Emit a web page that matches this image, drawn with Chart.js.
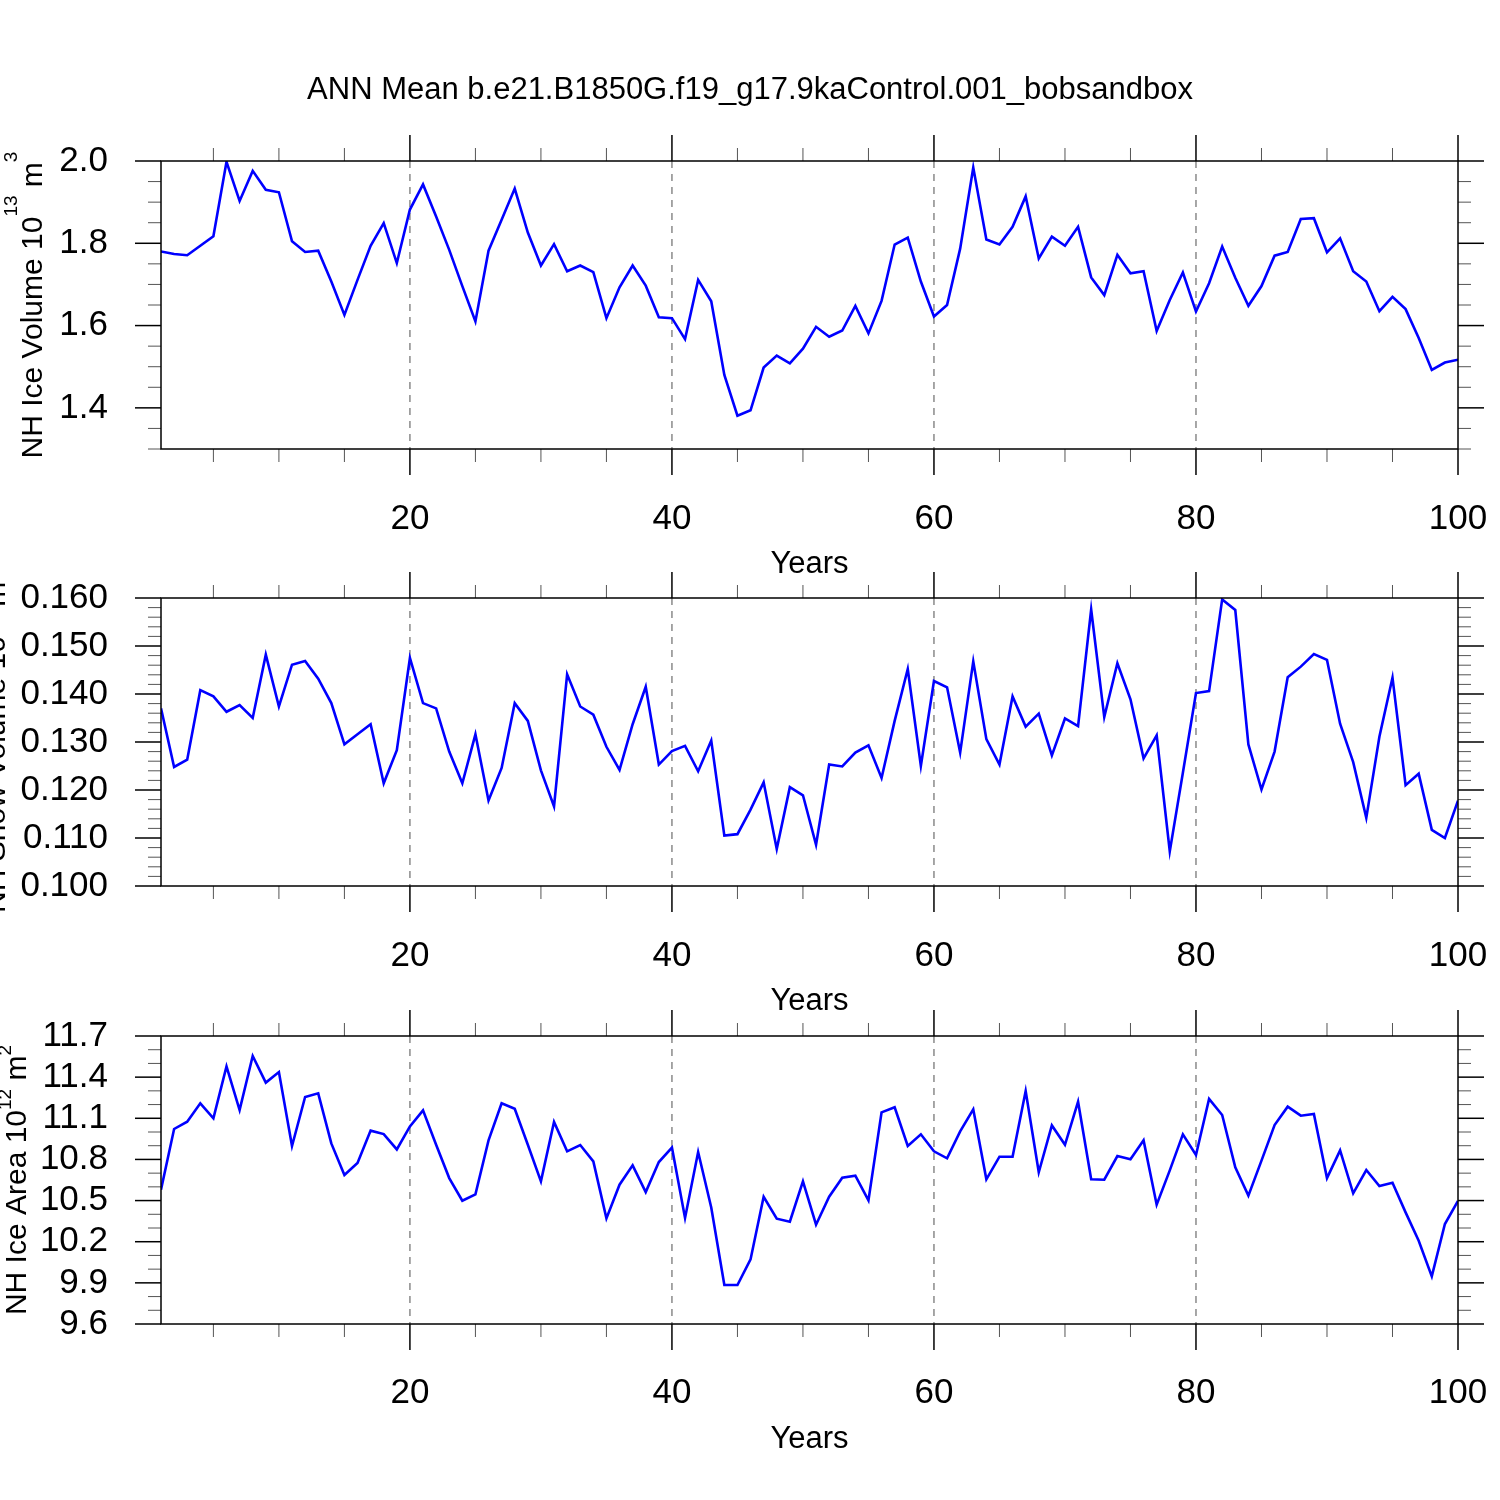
<!DOCTYPE html>
<html>
<head>
<meta charset="utf-8">
<title>ANN Mean b.e21.B1850G.f19_g17.9kaControl.001_bobsandbox</title>
<script src="https://cdn.jsdelivr.net/npm/chart.js@4.4.1/dist/chart.umd.min.js"></script>
<style>
  html, body { margin: 0; padding: 0; background: #fff; }
  #page { position: relative; width: 1500px; height: 1500px; background: #fff; overflow: hidden; }
  #page canvas { position: absolute; left: 0; }
</style>
</head>
<body>
<div id="page">
  <canvas id="iceVolumeChart" width="1500" height="600" style="top:0px"></canvas>
  <canvas id="snowVolumeChart" width="1500" height="500" style="top:540px"></canvas>
  <canvas id="iceAreaChart" width="1500" height="520" style="top:980px"></canvas>
</div>
<script>
// 年 (x軸)
const years = [
  1, 2, 3, 4, 5, 6, 7, 8, 9, 10, 11, 12, 13, 14, 15, 16, 17, 18, 19, 20,
  21, 22, 23, 24, 25, 26, 27, 28, 29, 30, 31, 32, 33, 34, 35, 36, 37, 38, 39, 40,
  41, 42, 43, 44, 45, 46, 47, 48, 49, 50, 51, 52, 53, 54, 55, 56, 57, 58, 59, 60,
  61, 62, 63, 64, 65, 66, 67, 68, 69, 70, 71, 72, 73, 74, 75, 76, 77, 78, 79, 80,
  81, 82, 83, 84, 85, 86, 87, 88, 89, 90, 91, 92, 93, 94, 95, 96, 97, 98, 99, 100,
];
const xTickYears = [20, 40, 60, 80, 100];
const dashedYears = [20, 40, 60, 80];

// NH Ice Volume (10^13 m^3)
const iceVolume = [
  1.780, 1.774, 1.771, 1.794, 1.817, 1.998, 1.903, 1.976, 1.930, 1.924,
  1.805, 1.779, 1.782, 1.707, 1.626, 1.711, 1.794, 1.849, 1.752, 1.882,
  1.943, 1.865, 1.784, 1.696, 1.610, 1.782, 1.857, 1.933, 1.826, 1.746,
  1.798, 1.732, 1.746, 1.730, 1.618, 1.693, 1.746, 1.697, 1.620, 1.618,
  1.567, 1.711, 1.659, 1.480, 1.381, 1.394, 1.498, 1.527, 1.508, 1.544,
  1.597, 1.573, 1.588, 1.648, 1.581, 1.660, 1.797, 1.814, 1.707, 1.622,
  1.650, 1.787, 1.984, 1.809, 1.797, 1.840, 1.914, 1.763, 1.816, 1.794,
  1.840, 1.717, 1.674, 1.772, 1.727, 1.732, 1.587, 1.662, 1.729, 1.634,
  1.703, 1.792, 1.716, 1.648, 1.696, 1.770, 1.779, 1.859, 1.861, 1.778,
  1.812, 1.732, 1.707, 1.635, 1.670, 1.640, 1.570, 1.492, 1.510, 1.517,
];
const iceVolumeTicks = [1.4, 1.6, 1.8, 2.0];

// NH Snow Volume (10^13 m^3)
const snowVolume = [
  0.1370, 0.1248, 0.1263, 0.1408, 0.1395, 0.1363, 0.1377, 0.1350, 0.1482, 0.1374,
  0.1461, 0.1469, 0.1432, 0.1381, 0.1295, 0.1316, 0.1337, 0.1214, 0.1283, 0.1475,
  0.1381, 0.1370, 0.1280, 0.1214, 0.1316, 0.1178, 0.1246, 0.1381, 0.1344, 0.1241,
  0.1166, 0.1441, 0.1374, 0.1357, 0.1290, 0.1242, 0.1337, 0.1415, 0.1253, 0.1281,
  0.1292, 0.1239, 0.1303, 0.1105, 0.1108, 0.1159, 0.1216, 0.1077, 0.1206, 0.1189,
  0.1086, 0.1253, 0.1249, 0.1278, 0.1293, 0.1225, 0.1344, 0.1452, 0.1250, 0.1427,
  0.1414, 0.1278, 0.1468, 0.1306, 0.1253, 0.1395, 0.1332, 0.1359, 0.1272, 0.1349,
  0.1333, 0.1576, 0.1352, 0.1464, 0.1389, 0.1266, 0.1314, 0.1072, 0.1236, 0.1402,
  0.1406, 0.1597, 0.1575, 0.1295, 0.1201, 0.1280, 0.1435, 0.1457, 0.1483, 0.1471,
  0.1338, 0.1258, 0.1142, 0.1311, 0.1434, 0.1210, 0.1234, 0.1117, 0.1100, 0.1178,
];
const snowVolumeTicks = [0.100, 0.110, 0.120, 0.130, 0.140, 0.150, 0.160];

// NH Ice Area (10^12 m^2)
const iceArea = [
  10.579, 11.022, 11.075, 11.209, 11.100, 11.479, 11.160, 11.554, 11.360, 11.437,
  10.898, 11.255, 11.282, 10.917, 10.686, 10.774, 11.010, 10.985, 10.873, 11.041,
  11.158, 10.907, 10.664, 10.499, 10.545, 10.939, 11.209, 11.170, 10.907, 10.640,
  11.073, 10.859, 10.905, 10.786, 10.370, 10.616, 10.757, 10.562, 10.781, 10.886,
  10.373, 10.854, 10.450, 9.884, 9.884, 10.071, 10.528, 10.368, 10.346, 10.640,
  10.324, 10.528, 10.667, 10.681, 10.501, 11.143, 11.180, 10.898, 10.983, 10.859,
  10.808, 11.005, 11.165, 10.655, 10.820, 10.820, 11.299, 10.706, 11.048, 10.907,
  11.221, 10.655, 10.652, 10.825, 10.801, 10.939, 10.470, 10.720, 10.983, 10.832,
  11.241, 11.124, 10.742, 10.536, 10.791, 11.051, 11.185, 11.119, 11.131, 10.664,
  10.866, 10.553, 10.723, 10.606, 10.630, 10.414, 10.207, 9.947, 10.329, 10.497,
];
const iceAreaTicks = [9.6, 9.9, 10.2, 10.5, 10.8, 11.1, 11.4, 11.7];

// 縦軸タイトル (上付き文字は sup)
const iceVolumeTitle = [{ text: "NH Ice Volume 10" }, { text: "13", sup: true }, { text: " m" }, { text: "3", sup: true }];
const snowVolumeTitle = [{ text: "NH Snow Volume 10" }, { text: "13", sup: true }, { text: " m" }, { text: "3", sup: true }];
const iceAreaTitle = [{ text: "NH Ice Area 10" }, { text: "12", sup: true }, { text: " m" }, { text: "2", sup: true }];

const mainTitle = "ANN Mean b.e21.B1850G.f19_g17.9kaControl.001_bobsandbox";

const FONT = "'Liberation Sans', Arial, Helvetica, sans-serif";
Chart.defaults.font.family = FONT;
Chart.defaults.color = "#000";

// 枠・目盛り・破線・縦軸タイトル・図タイトルを描くプラグイン
function makeFrame(panel) {
  return {
    id: "ncFrame",
    beforeDatasetsDraw(chart) {
      const { ctx, chartArea: a, scales } = chart;
      ctx.save();
      ctx.strokeStyle = "#8a8a8a";
      ctx.lineWidth = 1.5;
      ctx.setLineDash([7, 6]);
      dashedYears.forEach((v) => {
        const px = scales.x.getPixelForValue(v);
        ctx.beginPath();
        ctx.moveTo(px, a.top);
        ctx.lineTo(px, a.bottom);
        ctx.stroke();
      });
      ctx.restore();
    },
    afterDraw(chart) {
      const { ctx, chartArea: a, scales } = chart;
      const x = scales.x;
      const y = scales.y;
      const line = (x1, y1, x2, y2) => {
        ctx.beginPath();
        ctx.moveTo(x1, y1);
        ctx.lineTo(x2, y2);
        ctx.stroke();
      };
      ctx.save();

      // x 目盛り (5年ごと, 20年ごとに長く)
      for (let v = 5; v <= 100; v += 5) {
        const major = xTickYears.includes(v);
        const len = major ? 26 : 13;
        ctx.lineWidth = major ? 1.5 : 1;
        ctx.strokeStyle = major ? "#000" : "#555";
        const px = x.getPixelForValue(v);
        line(px, a.top, px, a.top - len);
        line(px, a.bottom, px, a.bottom + len);
      }

      // y 目盛り
      const n = Math.round((y.max - y.min) / panel.minorStep);
      for (let i = 0; i <= n; i++) {
        const v = y.min + i * panel.minorStep;
        const major = panel.ticks.some((m) => Math.abs(m - v) < panel.minorStep / 10);
        const len = major ? 26 : 13;
        ctx.lineWidth = major ? 1.5 : 1;
        ctx.strokeStyle = major ? "#000" : "#555";
        const py = y.getPixelForValue(v);
        line(a.left, py, a.left - len, py);
        line(a.right, py, a.right + len, py);
      }

      // 枠
      ctx.lineWidth = 1.5;
      ctx.strokeStyle = "#000";
      ctx.strokeRect(a.left, a.top, a.right - a.left, a.bottom - a.top);

      ctx.fillStyle = "#000";

      // 図タイトル (ページ中央)
      if (panel.showTitle) {
        ctx.font = "31px " + FONT;
        ctx.textAlign = "center";
        ctx.textBaseline = "middle";
        ctx.fillText(mainTitle, chart.width / 2, 90);
      }

      // 縦軸タイトル
      const mainFont = "30px " + FONT;
      const supFont = "19px " + FONT;
      let total = 0;
      panel.title.forEach((p) => {
        ctx.font = p.sup ? supFont : mainFont;
        total += ctx.measureText(p.text).width;
      });
      ctx.translate(panel.titleX, (a.top + a.bottom) / 2);
      ctx.rotate(-Math.PI / 2);
      ctx.textBaseline = "alphabetic";
      ctx.textAlign = "left";
      let cx = -total / 2;
      panel.title.forEach((p) => {
        ctx.font = p.sup ? supFont : mainFont;
        ctx.fillText(p.text, cx, p.sup ? -panel.supRaise : 0);
        cx += ctx.measureText(p.text).width;
      });
      ctx.restore();
    },
  };
}

function makeConfig(panel) {
  return {
    type: "line",
    data: {
      datasets: [
        {
          data: years.map((yr, i) => ({ x: yr, y: panel.values[i] })),
          borderColor: "#0000ff",
          borderWidth: 2.6,
          pointRadius: 0,
          tension: 0,
          fill: false,
        },
      ],
    },
    options: {
      responsive: false,
      animation: false,
      layout: {
        padding: { top: panel.padTop, right: 42, bottom: 0, left: 0 },
      },
      plugins: {
        legend: { display: false },
        tooltip: { enabled: false },
        title: { display: false },
      },
      scales: {
        x: {
          type: "linear",
          min: 1,
          max: 100,
          // 目盛り線は描かず、ラベル位置の間隔だけに tickLength を使う
          grid: { display: false, drawTicks: true, tickLength: panel.xLabelGap },
          border: { display: false },
          afterBuildTicks: (scale) => {
            scale.ticks = xTickYears.map((v) => ({ value: v }));
          },
          afterFit: (scale) => {
            scale.height = panel.xAxisHeight;
          },
          ticks: {
            autoSkip: false,
            maxRotation: 0,
            minRotation: 0,
            padding: 0,
            font: { size: 35 },
            color: "#000",
            callback: (v) => String(v),
          },
          title: {
            display: true,
            text: "Years",
            font: { size: 31 },
            color: "#000",
            padding: { top: 0, bottom: panel.yearsPad },
          },
        },
        y: {
          type: "linear",
          min: panel.min,
          max: panel.max,
          grid: { display: false, drawTicks: true, tickLength: 53 },
          border: { display: false },
          afterBuildTicks: (scale) => {
            scale.ticks = panel.ticks.map((v) => ({ value: v }));
          },
          afterFit: (scale) => {
            scale.width = 161;
          },
          ticks: {
            autoSkip: false,
            padding: 0,
            font: { size: 35 },
            color: "#000",
            callback: (v) => Number(v).toFixed(panel.decimals),
          },
        },
      },
    },
    plugins: [makeFrame(panel)],
  };
}

// パネル設定
const panels = {
  iceVolumeChart: {
    values: iceVolume, min: 1.3, max: 2.0, ticks: iceVolumeTicks, decimals: 1, minorStep: 0.05,
    title: iceVolumeTitle, titleX: 42, supRaise: 25, showTitle: true, padTop: 161,
    xAxisHeight: 151, xLabelGap: 49, yearsPad: 17.4,
  },
  snowVolumeChart: {
    values: snowVolume, min: 0.1, max: 0.16, ticks: snowVolumeTicks, decimals: 3, minorStep: 0.002,
    title: snowVolumeTitle, titleX: 5, supRaise: 25, showTitle: false, padTop: 58,
    xAxisHeight: 154, xLabelGap: 49, yearsPad: 20.4,
  },
  iceAreaChart: {
    values: iceArea, min: 9.6, max: 11.7, ticks: iceAreaTicks, decimals: 1, minorStep: 0.1,
    title: iceAreaTitle, titleX: 26, supRaise: 15, showTitle: false, padTop: 56,
    xAxisHeight: 176, xLabelGap: 48, yearsPad: 42.4,
  },
};

const charts = {};
Object.keys(panels).forEach((id) => {
  const canvas = document.getElementById(id);
  if (!canvas) {
    throw new Error("Cannot find a canvas element with id " + id);
  }
  charts[id] = new Chart(canvas, makeConfig(panels[id]));
});
</script>
</body>
</html>
